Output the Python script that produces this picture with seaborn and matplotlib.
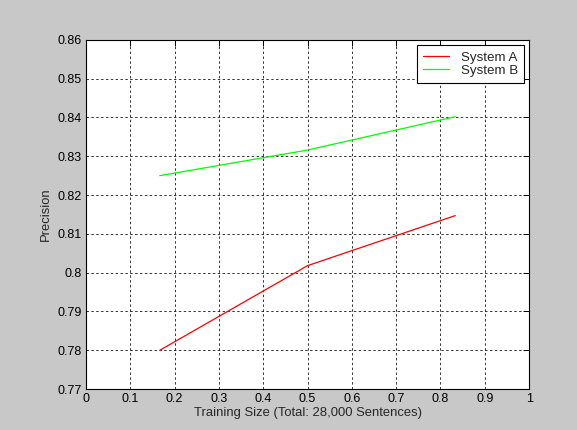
import numpy as np
import matplotlib
matplotlib.use("Agg")
import matplotlib.pyplot as plt
import matplotlib.ticker as mticker
import pandas as pd
import seaborn as sns

# training fraction (of 28,000 sentences)
train_frac = [1 / 6, 1 / 2, 5 / 6]
system_a = [0.780, 0.8018, 0.8147]
system_b = [0.825, 0.8316, 0.8402]
series_names = ["System A", "System B"]

df = pd.DataFrame({
    "size": train_frac * 2,
    "precision": system_a + system_b,
    "system": [series_names[0]] * 3 + [series_names[1]] * 3,
})

sns.set_theme(style="white")
plt.rcParams["font.family"] = ["Liberation Sans", "DejaVu Sans"]

fig = plt.figure(figsize=(5.77, 4.30), dpi=100, facecolor="#c8c8c8")
ax = fig.add_axes([0.149, 0.0953, 0.768, 0.812])
ax.set_facecolor("white")

sns.lineplot(data=df, x="size", y="precision", hue="system",
             palette={"System A": "#ff0000", "System B": "#00ff00"},
             linewidth=0.9, ax=ax, legend=True)

ax.set_xlim(0, 1)
ax.set_ylim(0.77, 0.86)
ax.xaxis.set_major_locator(mticker.MultipleLocator(0.1))
ax.yaxis.set_major_locator(mticker.MultipleLocator(0.01))
ax.xaxis.set_major_formatter(mticker.FuncFormatter(lambda v, p: "%g" % round(v, 2)))
ax.yaxis.set_major_formatter(mticker.FuncFormatter(lambda v, p: "%g" % round(v, 2)))

ax.grid(True, color="black", linestyle=(0, (2.5, 2.5)), linewidth=0.7, alpha=0.8)
ax.tick_params(direction="in", length=4, width=0.7, top=True, right=True,
               labelsize=9, colors="black", pad=3)
for s in ax.spines.values():
    s.set_color("black")
    s.set_linewidth(0.8)

ax.set_xlabel("Training Size (Total: 28,000 Sentences)", fontsize=9.4, labelpad=1)
ax.set_ylabel("Precision", fontsize=9.4, labelpad=4)

leg = ax.legend(loc="upper right", fontsize=9.6, fancybox=False, framealpha=1,
                edgecolor="black", borderaxespad=0.35, handlelength=1.9,
                handletextpad=0.9, labelspacing=0.05, borderpad=0.5)
leg.get_frame().set_linewidth(0.8)

fig.savefig("out.png", dpi=100, facecolor=fig.get_facecolor())
